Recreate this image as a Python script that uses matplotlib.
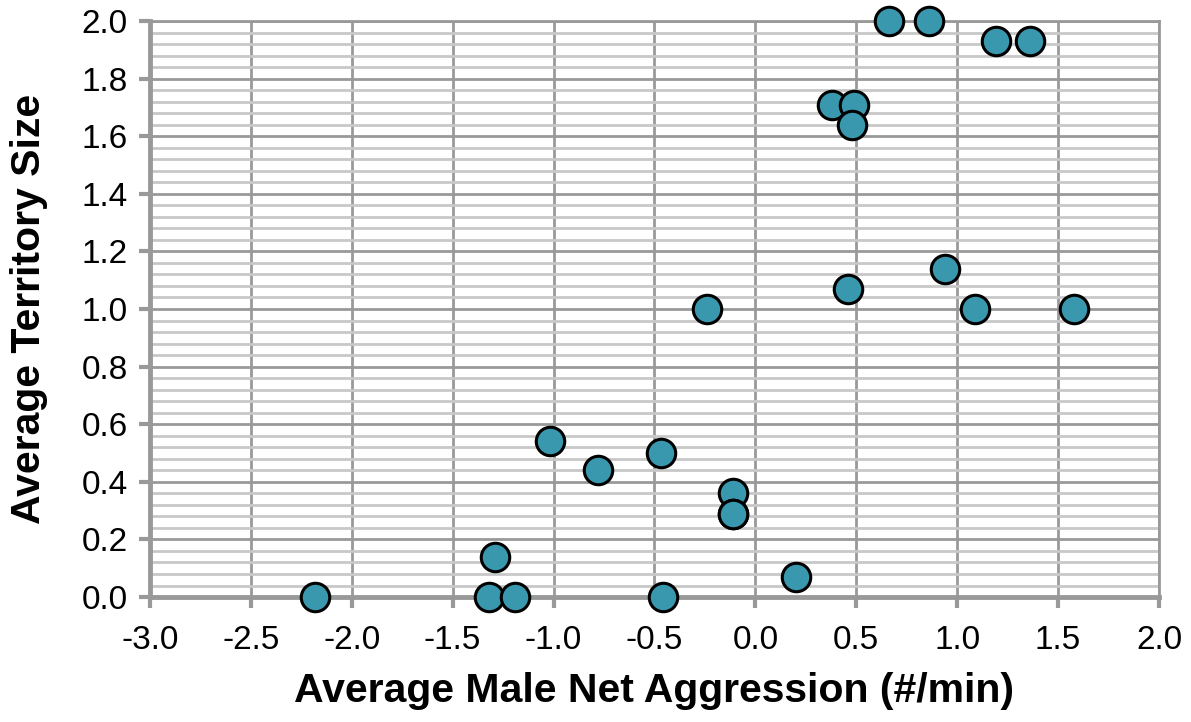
import matplotlib
matplotlib.use("Agg")
import matplotlib.pyplot as plt
import numpy as np
from matplotlib.ticker import MultipleLocator, FormatStrFormatter

aggression = [-2.18, -1.32, -1.19, -1.29, -0.46, -1.02, -0.78, -0.47, -0.11, -0.11, -0.11,
              0.20, -0.24, 0.46, 0.94, 1.09, 1.58, 0.38, 0.49, 0.48, 0.66, 0.86, 1.19, 1.36]
territory = [0.00, 0.00, 0.00, 0.14, 0.00, 0.54, 0.44, 0.50, 0.36, 0.29, 0.29,
             0.07, 1.00, 1.07, 1.14, 1.00, 1.00, 1.71, 1.71, 1.64, 2.00, 2.00, 1.93, 1.93]

plt.rcParams['font.family'] = ['Liberation Sans', 'DejaVu Sans']

fig = plt.figure(figsize=(11.91, 7.22), dpi=100)
ax = fig.add_axes([0.1259, 0.1731, 0.8472, 0.7978])

ax.set_xlim(-3.0, 2.0)
ax.set_ylim(0.0, 2.0)
ax.xaxis.set_major_locator(MultipleLocator(0.5))
ax.yaxis.set_major_locator(MultipleLocator(0.2))
ax.yaxis.set_minor_locator(MultipleLocator(0.04))
ax.xaxis.set_major_formatter(FormatStrFormatter('%.1f'))
ax.yaxis.set_major_formatter(FormatStrFormatter('%.1f'))

ax.grid(which='minor', axis='y', color='#C8C8C8', linewidth=2.0, zorder=0)
ax.grid(which='major', axis='both', color='#999999', linewidth=2.0, zorder=0)
ax.set_axisbelow(True)

ax.scatter(aggression, territory, s=420, color='#3A98AE', edgecolors='black',
           linewidths=2.2, zorder=3, clip_on=False)

for side in ['left', 'bottom']:
    ax.spines[side].set_color('#999999')
    ax.spines[side].set_linewidth(3.5)
for side in ['top', 'right']:
    ax.spines[side].set_color('#999999')
    ax.spines[side].set_linewidth(2.0)

ax.tick_params(which='major', direction='out', length=8, width=3, color='#999999',
               labelsize=24, labelcolor='black')
ax.tick_params(which='minor', length=0)
ax.tick_params(axis='x', pad=12)
ax.tick_params(axis='y', pad=8)

ax.set_xlabel('Average Male Net Aggression (#/min)', fontsize=29.5, fontweight='bold', labelpad=12)
ax.set_ylabel('Average Territory Size', fontsize=29.5, fontweight='bold', labelpad=24)

fig.savefig('out.png', dpi=100)
